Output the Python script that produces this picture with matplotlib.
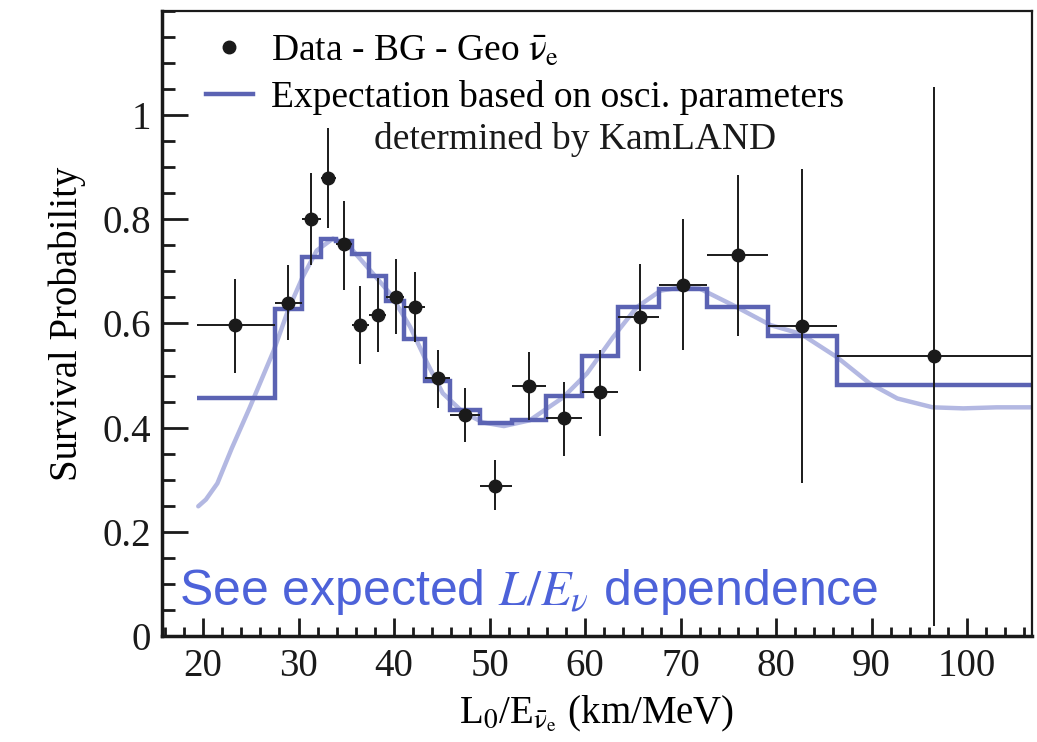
import matplotlib
matplotlib.use("Agg")
import matplotlib.pyplot as plt
from matplotlib.lines import Line2D
from matplotlib.ticker import MultipleLocator
import numpy as np

plt.rcParams['font.family'] = ['Liberation Serif', 'DejaVu Serif']
plt.rcParams['mathtext.fontset'] = 'stix'

# data points (L0/E, survival prob) with asymmetric errors
data_x = [23.35, 28.9, 31.3, 33.1, 34.8, 36.4, 38.3, 40.2, 42.2, 44.6,
          47.4, 50.6, 54.1, 57.8, 61.6, 65.7, 70.3, 76.0, 82.7, 96.5]
data_y = [0.597, 0.640, 0.800, 0.880, 0.752, 0.598, 0.617, 0.650, 0.631, 0.495,
          0.424, 0.288, 0.479, 0.418, 0.468, 0.612, 0.673, 0.731, 0.596, 0.537]
err_lo = [0.505, 0.568, 0.713, 0.784, 0.665, 0.523, 0.545, 0.579, 0.564, 0.437,
          0.372, 0.242, 0.414, 0.345, 0.384, 0.508, 0.550, 0.575, 0.293, 0.019]
err_hi = [0.686, 0.713, 0.888, 0.976, 0.836, 0.671, 0.688, 0.723, 0.698, 0.550,
          0.477, 0.337, 0.545, 0.487, 0.550, 0.715, 0.800, 0.886, 0.897, 1.055]

# binned expectation (histogram)
bin_edges = [19.4, 27.5, 30.4, 32.3, 33.9, 35.6, 37.4, 39.2, 41.0, 43.2, 45.9,
             49.0, 52.4, 55.9, 59.7, 63.5, 67.7, 72.8, 79.2, 86.4, 108.0]
bin_vals = [0.456, 0.627, 0.727, 0.762, 0.758, 0.733, 0.692, 0.644, 0.571, 0.489,
            0.433, 0.408, 0.414, 0.460, 0.537, 0.631, 0.667, 0.631, 0.575, 0.481]

# unbinned expectation curve
curve_x = [19.5, 20.3, 21.5, 23.0, 24.9, 27.4, 28.9, 30.4, 31.9, 33.6, 35.4, 37.5,
           39.6, 41.7, 43.5, 45.1, 47.2, 49.3, 51.5, 54.2, 57.7, 60.2, 62.9,
           65.4, 67.9, 69.9, 72.0, 75.5, 79.4, 82.6, 86.4, 89.8, 92.7, 96.4,
           99.6, 103.1, 106.8]
curve_y = [0.249, 0.262, 0.293, 0.360, 0.439, 0.548, 0.625, 0.688, 0.740, 0.763,
           0.746, 0.702, 0.657, 0.593, 0.523, 0.466, 0.430, 0.410, 0.403, 0.414,
           0.458, 0.504, 0.573, 0.631, 0.663, 0.669, 0.667, 0.635, 0.597, 0.580,
           0.535, 0.485, 0.456, 0.439, 0.437, 0.439, 0.439]

edges = np.array(bin_edges)
xlo = np.array(data_x) - edges[:-1]
xhi = edges[1:] - np.array(data_x)
ylo = np.array(data_y) - np.array(err_lo)
yhi = np.array(err_hi) - np.array(data_y)

fig = plt.figure(figsize=(10.37, 7.42), dpi=100)
ax = fig.add_axes([0.1562, 0.1429, 0.839, 0.8423])

hist_col = '#5b63b3'
curve_col = '#b3b8e2'

ax.plot(curve_x, curve_y, color=curve_col, lw=3.2, solid_capstyle='round', zorder=1)
ax.stairs(bin_vals, bin_edges, baseline=None, color=hist_col, lw=3.2, zorder=2)
ax.errorbar(data_x, data_y, xerr=[xlo, xhi], yerr=[ylo, yhi], fmt='o',
            color='#1a1a1a', ms=9, elinewidth=1.4, capsize=0, zorder=3)

ax.set_xlim(15.7, 106.8)
ax.set_ylim(0, 1.2)
ax.xaxis.set_major_locator(MultipleLocator(10))
ax.xaxis.set_minor_locator(MultipleLocator(2))
ax.yaxis.set_major_locator(MultipleLocator(0.2))
ax.yaxis.set_minor_locator(MultipleLocator(0.05))
ax.set_yticks([0, 0.2, 0.4, 0.6, 0.8, 1.0])
ax.set_yticklabels(['0', '0.2', '0.4', '0.6', '0.8', '1'])
ax.set_xticks(range(20, 101, 10))

ax.tick_params(axis='both', which='both', direction='in', top=False, right=False,
               labelsize=28, colors='#1a1a1a', width=2)
ax.tick_params(axis='y', which='major', length=19, pad=8)
ax.tick_params(axis='y', which='minor', length=9.5)
ax.tick_params(axis='x', which='major', length=13, pad=9)
ax.tick_params(axis='x', which='minor', length=6.7)

for side in ['left', 'bottom']:
    ax.spines[side].set_linewidth(2.5)
for side in ['top', 'right']:
    ax.spines[side].set_linewidth(1.6)
for s in ax.spines.values():
    s.set_color('#1a1a1a')

ax.set_ylabel('Survival Probability', fontsize=28, labelpad=12)
ax.set_xlabel(r'L$_0$/E$_{\bar{\mathrm{\nu}}_\mathrm{e}}$ (km/MeV)', fontsize=28, labelpad=6)

handles = [Line2D([], [], marker='o', ls='none', color='#1a1a1a', ms=9),
           Line2D([], [], color=hist_col, lw=3.2)]
labels = [r'Data - BG - Geo $\bar{\mathrm{\nu}}_\mathrm{e}$',
          'Expectation based on osci. parameters']
leg = ax.legend(handles, labels, loc='upper left', bbox_to_anchor=(0.02, 1.005),
                frameon=False, fontsize=27, handlelength=1.25, handletextpad=0.5,
                labelspacing=0.31, borderpad=0.2)
ax.text(0.475, 0.795, 'determined by KamLAND', transform=ax.transAxes,
        fontsize=27, ha='center', va='center', color='#1a1a1a')

ax.text(0.02, 0.03, r'See expected $L/E_\nu$ dependence', transform=ax.transAxes,
        fontsize=36, color='#4d62d9', family='Liberation Sans', ha='left', va='bottom')

fig.savefig('out.png', dpi=100)
